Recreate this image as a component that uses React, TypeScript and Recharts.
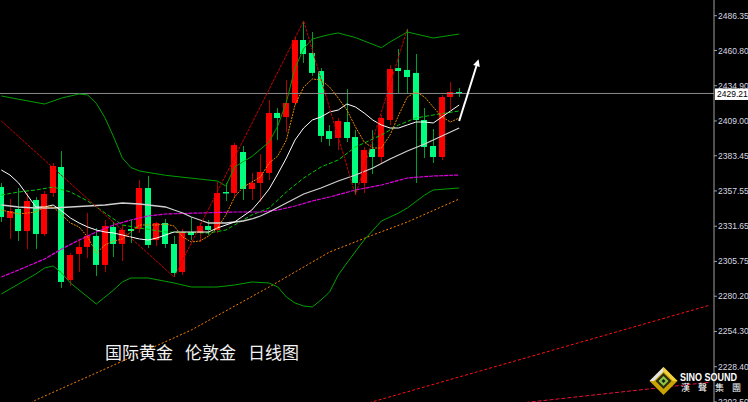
import React from 'react';
import { ComposedChart, Bar, Line, XAxis, YAxis, ReferenceLine } from 'recharts';

// right price scale
const priceTicks = [2486.35, 2460.8, 2434.9, 2409.0, 2383.45, 2357.55, 2331.65, 2305.75, 2280.2, 2254.3, 2228.4, 2202.5];
const priceMin = 2202.47;
const priceMax = 2497.9;
const lastPrice = 2429.21;
const SLOTS = 83; // candle slots across the plot, the rest is empty space on the right

// daily candles, oldest first
const candleOpen = [
  2360.5, 2337.7, 2344.3, 2328.1, 2350.9, 2325.9, 2356.1, 2375.2, 2292.1, 2311.2,
  2316.4, 2324.5, 2303.2, 2331.1, 2318.6, 2329.6, 2329.6, 2359.7, 2321.5, 2334.0,
  2318.6, 2298.0, 2327.4, 2326.7, 2331.8, 2328.9, 2356.8, 2356.1, 2386.2, 2359.0,
  2363.4, 2370.8, 2414.9, 2411.9, 2422.2, 2468.5, 2459.0, 2445.7, 2401.6, 2396.5,
  2408.2, 2397.2, 2363.4, 2388.4, 2382.5, 2409.7, 2447.9, 2446.5, 2444.3, 2409.7,
  2390.6, 2382.5, 2426.6, 2430.3,
];
const candleHigh = [
  2363.4, 2351.7, 2359.7, 2356.1, 2353.1, 2357.5, 2378.1, 2386.9, 2312.0, 2321.5,
  2341.4, 2330.3, 2336.2, 2334.8, 2332.6, 2336.2, 2365.6, 2368.6, 2334.8, 2337.0,
  2324.5, 2329.6, 2338.4, 2334.0, 2336.2, 2364.2, 2363.4, 2392.8, 2390.6, 2370.8,
  2384.7, 2424.4, 2418.5, 2439.1, 2470.7, 2482.5, 2474.4, 2447.9, 2406.0, 2411.2,
  2432.5, 2402.4, 2389.9, 2402.4, 2413.4, 2450.1, 2461.9, 2476.6, 2458.2, 2418.5,
  2403.1, 2428.1, 2437.6, 2433.2,
];
const candleLow = [
  2334.8, 2322.3, 2320.8, 2314.9, 2314.9, 2324.5, 2353.1, 2286.3, 2287.7, 2298.0,
  2308.3, 2295.1, 2298.0, 2309.0, 2306.1, 2319.3, 2326.7, 2315.6, 2317.1, 2315.6,
  2294.3, 2295.8, 2321.5, 2320.1, 2325.2, 2326.7, 2350.2, 2352.4, 2350.9, 2350.9,
  2349.5, 2365.6, 2395.0, 2400.9, 2420.7, 2451.6, 2442.1, 2393.5, 2390.6, 2387.7,
  2393.5, 2354.6, 2356.1, 2370.0, 2377.4, 2406.0, 2429.6, 2429.6, 2363.4, 2381.8,
  2378.1, 2380.3, 2417.1, 2426.6,
];
const candleClose = [
  2338.4, 2342.8, 2328.1, 2350.2, 2325.9, 2355.3, 2375.9, 2290.7, 2310.5, 2316.4,
  2324.5, 2303.2, 2331.8, 2318.6, 2328.9, 2328.1, 2359.7, 2317.9, 2334.0, 2318.6,
  2297.3, 2327.4, 2325.2, 2331.8, 2328.9, 2356.1, 2356.1, 2391.3, 2359.0, 2363.4,
  2371.5, 2414.9, 2411.2, 2422.2, 2468.5, 2458.2, 2444.3, 2398.0, 2395.8, 2409.0,
  2396.5, 2363.4, 2387.7, 2382.5, 2411.2, 2447.2, 2445.7, 2441.3, 2409.7, 2389.9,
  2382.5, 2426.6, 2430.3, 2429.2,
];

// indicator readings, [candle index, price]
const bbUpper: [number, number][] = [
  [0, 2427.35], [5, 2421.47], [7, 2425.88], [9, 2428.82], [10, 2428.08], [11, 2421.98],
  [12, 2411.33], [13, 2397.29], [14, 2381.86], [15, 2374.8], [16, 2372.23], [19, 2369.07],
  [25, 2364.88], [26, 2361.21], [27, 2375.17], [29, 2382.89], [31, 2393.54], [32, 2405.3],
  [33, 2422.94], [34, 2447.93], [35, 2462.11], [36, 2469.24], [38, 2472.55], [39, 2473.65],
  [41, 2470.27], [44, 2462.85], [45, 2467.03], [47, 2474.38], [50, 2469.97], [53, 2472.91],
];
const bbMiddle: [number, number][] = [
  [0, 2354.59], [2, 2356.8], [4, 2358.27], [6, 2360.47], [8, 2356.8], [10, 2350.19],
  [12, 2341.37], [14, 2332.55], [16, 2330.34], [19, 2327.4], [24, 2326.67], [26, 2328.87],
  [27, 2332.55], [29, 2339.9], [31, 2345.04], [33, 2356.8], [35, 2367.09], [37, 2375.17],
  [39, 2380.32], [41, 2389.87], [44, 2398.69], [46, 2406.04], [48, 2411.18], [50, 2413.39],
  [53, 2416.33],
];
const bbLower: [number, number][] = [
  [0, 2281.84], [2, 2289.19], [4, 2296.54], [5, 2300.95], [6, 2302.42], [7, 2297.27],
  [8, 2289.92], [9, 2284.78], [11, 2274.49], [12, 2279.63], [13, 2284.78], [14, 2290.66],
  [15, 2293.6], [17, 2293.6], [20, 2289.92], [22, 2286.98], [25, 2286.98], [27, 2288.45],
  [29, 2290.66], [31, 2289.92], [32, 2286.98], [33, 2279.63], [34, 2275.23], [35, 2273.02],
  [36, 2272.29], [37, 2277.43], [38, 2283.31], [39, 2295.8], [40, 2304.62], [42, 2321.52],
  [44, 2335.49], [46, 2341.37], [47, 2345.04], [49, 2354.59], [50, 2358.27], [53, 2359.74],
];
const ma5: [number, number][] = [
  [0, 2343.57], [2, 2340.63], [4, 2342.1], [5, 2345.78], [6, 2345.78], [7, 2339.9],
  [8, 2334.02], [9, 2331.08], [10, 2323.73], [11, 2311.97], [12, 2317.85], [13, 2320.79],
  [14, 2322.26], [15, 2327.4], [16, 2332.55], [17, 2332.55], [18, 2332.55], [19, 2333.28],
  [20, 2331.81], [21, 2323.73], [22, 2320.05], [23, 2320.79], [24, 2324.46], [25, 2330.34],
  [26, 2339.9], [27, 2353.12], [28, 2360.47], [29, 2364.15], [30, 2367.82], [31, 2378.11],
  [32, 2383.26], [33, 2395.01], [34, 2420.74], [35, 2433.96], [36, 2439.84], [37, 2439.11],
  [38, 2433.96], [39, 2425.88], [40, 2417.06], [41, 2404.57], [42, 2393.54], [43, 2389.13],
  [44, 2389.13], [45, 2398.69], [46, 2413.39], [47, 2426.61], [48, 2430.29], [49, 2426.61],
  [50, 2419.27], [51, 2411.92], [52, 2408.24], [53, 2411.18],
];
const ma10: [number, number][] = [
  [0, 2372.97], [1, 2369.29], [2, 2363.41], [3, 2354.59], [4, 2345.78], [5, 2345.78],
  [6, 2347.25], [7, 2342.84], [8, 2337.69], [9, 2334.02], [10, 2331.08], [11, 2328.87],
  [12, 2327.4], [13, 2326.67], [14, 2325.2], [15, 2323.73], [16, 2322.26], [17, 2321.52],
  [18, 2322.99], [19, 2325.2], [20, 2327.4], [22, 2327.4], [24, 2327.4], [25, 2330.34],
  [26, 2332.55], [27, 2334.75], [29, 2343.57], [30, 2350.92], [31, 2359.0], [32, 2370.03],
  [33, 2381.79], [34, 2395.01], [35, 2403.83], [36, 2409.71], [37, 2411.92], [38, 2415.59],
  [39, 2417.06], [40, 2421.47], [41, 2419.27], [42, 2414.86], [43, 2409.71], [44, 2406.04],
  [45, 2403.83], [46, 2403.83], [47, 2406.04], [48, 2408.24], [49, 2408.24], [50, 2407.51],
  [51, 2411.92], [52, 2416.33], [53, 2420.74],
];
const ma30: [number, number][] = [
  [0, 2347.25], [2, 2345.78], [4, 2345.04], [6, 2345.04], [8, 2345.78], [10, 2346.51],
  [12, 2347.25], [14, 2348.72], [16, 2347.98], [18, 2346.51], [19, 2345.78], [20, 2343.57],
  [21, 2341.37], [22, 2338.43], [23, 2336.22], [24, 2334.02], [26, 2334.02], [28, 2335.49],
  [29, 2336.96], [30, 2339.16], [31, 2342.1], [33, 2348.72], [35, 2355.33], [37, 2359.74],
  [39, 2364.88], [41, 2369.29], [43, 2374.43], [45, 2381.05], [47, 2386.93], [49, 2392.07],
  [51, 2397.95], [53, 2403.83],
];
const ma60: [number, number][] = [
  [0, 2294.33], [2, 2299.48], [5, 2307.56], [7, 2314.91], [9, 2321.52], [11, 2327.4],
  [13, 2332.55], [15, 2336.22], [17, 2339.16], [19, 2340.63], [23, 2341.37], [27, 2342.1],
  [30, 2342.1], [32, 2343.57], [34, 2346.51], [36, 2350.19], [38, 2353.12], [41, 2358.27],
  [44, 2361.94], [47, 2367.09], [50, 2368.56], [53, 2369.29],
];
const ma200: [number, number][] = [
  [3, 2200.27], [4, 2203.94], [12, 2226.72], [22, 2255.38], [31, 2286.98], [38, 2312.69],
  [43, 2325.2], [47, 2334.75], [53, 2351.65],
];
const zigzag: [number, number][] = [
  [0, 2409.0], [20, 2294.3], [35, 2482.5], [41, 2354.6], [47, 2476.6],
];
const trendLineA: [number, number][] = [[42, 2200.85], [82, 2273.6]];
const trendLineB: [number, number][] = [[60, 2201.6], [82, 2217.0]];
const arrowPath: [number, number][] = [[53, 2409.0], [55, 2449.4]];

const rows: any[] = Array.from({ length: SLOTS }, (_, i) => ({
  i,
  o: candleOpen[i] ?? null,
  h: candleHigh[i] ?? null,
  l: candleLow[i] ?? null,
  c: candleClose[i] ?? null,
}));
const put = (key: string, pts: [number, number][]) => {
  pts.forEach(([idx, v]) => {
    rows[idx][key] = v;
  });
};
put('bbU', bbUpper);
put('bbM', bbMiddle);
put('bbL', bbLower);
put('ma5', ma5);
put('ma10', ma10);
put('ma30', ma30);
put('ma60', ma60);
put('ma200', ma200);
put('zz', zigzag);
put('tlA', trendLineA);
put('tlB', trendLineB);
put('arrow', arrowPath);

const Candle = (props: any) => {
  const { x, y, width, height, payload } = props;
  if (!payload || payload.o == null || height == null) return <g />;
  const { o, h, l, c } = payload;
  const top = Math.min(y, y + height);
  const span = Math.abs(height);
  const toY = (v: number) => top + ((h - v) / (h - l)) * span;
  const up = c > o;
  const mid = Math.round(x + width / 2);
  const bTop = toY(Math.max(o, c));
  const bBot = toY(Math.min(o, c));
  return (
    <g>
      <line x1={mid + 0.5} x2={mid + 0.5} y1={top} y2={top + span} stroke={up ? '#b00000' : '#00a030'} strokeWidth={1} />
      <rect x={mid - 3} y={bTop} width={6} height={Math.max(1.5, bBot - bTop)} fill={up ? '#ff0000' : '#00ff7f'} />
    </g>
  );
};

const lastArrowIdx = arrowPath[arrowPath.length - 1][0];
const firstArrowIdx = arrowPath[0][0];

const ArrowHead = (props: any) => {
  const { cx, cy, payload, points } = props;
  if (!payload || payload.i !== lastArrowIdx || cx == null || cy == null) return <g key={props.key} />;
  let ux = 0.27;
  let uy = -0.96;
  const start = Array.isArray(points) ? points.find((p: any) => p && p.payload && p.payload.i === firstArrowIdx) : null;
  if (start && start.x != null && start.y != null) {
    const dx = cx - start.x;
    const dy = cy - start.y;
    const len = Math.hypot(dx, dy) || 1;
    ux = dx / len;
    uy = dy / len;
  }
  const tipX = cx + ux * 7;
  const tipY = cy + uy * 7;
  const px = -uy * 3.5;
  const py = ux * 3.5;
  return (
    <polygon
      key={props.key}
      points={`${tipX},${tipY} ${cx + px},${cy + py} ${cx - px},${cy - py}`}
      fill="#ffffff"
    />
  );
};

const PriceTag = (props: any) => {
  const vb = props.viewBox || {};
  const x = (vb.x ?? 0) + (vb.width ?? 0) + 1;
  const y = vb.y ?? 0;
  return (
    <g>
      <rect x={x} y={y - 5} width={34} height={11.5} fill="#ffffff" />
      <text x={x + 2} y={y + 4} fontSize={8.5} fill="#000000" fontFamily="Liberation Sans, Arial, sans-serif">
        {lastPrice.toFixed(2)}
      </text>
    </g>
  );
};

const lineBase = {
  type: 'linear' as const,
  dot: false,
  activeDot: false,
  connectNulls: true,
  isAnimationActive: false,
};

export default function App() {
  return (
    <div
      style={{
        position: 'fixed',
        left: 0,
        top: 0,
        width: 748,
        height: 402,
        background: '#000000',
        overflow: 'hidden',
        fontFamily: 'Liberation Sans, Arial, sans-serif',
      }}
    >
      <ComposedChart width={748} height={402} data={rows} margin={{ top: 0, right: 0, bottom: 0, left: -3 }}>
        <XAxis dataKey="i" hide />
        <YAxis
          orientation="right"
          domain={[priceMin, priceMax]}
          allowDataOverflow
          ticks={priceTicks}
          interval={0}
          width={34}
          tickSize={3}
          tickMargin={1}
          axisLine={{ stroke: '#a0a0a0' }}
          tickLine={{ stroke: '#a0a0a0' }}
          tick={{ fill: '#d8d8e0', fontSize: 8.5, fontFamily: 'Liberation Sans, Arial, sans-serif' }}
          tickFormatter={(v: number) => v.toFixed(2)}
        />
        <ReferenceLine y={lastPrice} stroke="#8c8c8c" strokeWidth={1} label={PriceTag} />
        <Bar dataKey={(d: any) => (d.h == null ? null : [d.l, d.h])} barSize={6} shape={Candle} isAnimationActive={false} />
        <Line {...lineBase} dataKey="ma200" stroke="#ff8000" strokeWidth={1} strokeDasharray="2 2" />
        <Line {...lineBase} dataKey="bbU" stroke="#00a000" strokeWidth={1} />
        <Line {...lineBase} dataKey="bbL" stroke="#00a000" strokeWidth={1} />
        <Line {...lineBase} dataKey="bbM" stroke="#00c800" strokeWidth={1} strokeDasharray="4 2" />
        <Line {...lineBase} dataKey="ma60" stroke="#e000e0" strokeWidth={1.2} strokeDasharray="4 1" />
        <Line {...lineBase} dataKey="ma30" stroke="#d0d0d0" strokeWidth={1.3} />
        <Line {...lineBase} dataKey="ma10" stroke="#ffffff" strokeWidth={1} />
        <Line {...lineBase} dataKey="ma5" stroke="#e88a00" strokeWidth={1} strokeDasharray="2 1" />
        <Line {...lineBase} dataKey="zz" stroke="#c80000" strokeWidth={1} strokeDasharray="3 1" />
        <Line {...lineBase} dataKey="tlA" stroke="#ff1010" strokeWidth={1} strokeDasharray="3 2" />
        <Line {...lineBase} dataKey="tlB" stroke="#e8103c" strokeWidth={1} strokeDasharray="4 2" />
        <Line {...lineBase} dataKey="arrow" stroke="#ffffff" strokeWidth={2} dot={ArrowHead} />
      </ComposedChart>

      <div
        style={{
          position: 'absolute',
          left: 105,
          top: 342,
          fontSize: 17,
          lineHeight: '20px',
          color: '#f2f2f2',
          fontFamily: '"Noto Sans CJK SC", sans-serif',
          whiteSpace: 'nowrap',
        }}
      >
        <span>国际黄金</span>
        <span style={{ marginLeft: 12 }}>伦敦金</span>
        <span style={{ marginLeft: 12 }}>日线图</span>
      </div>

      <svg width={103} height={40} style={{ position: 'absolute', left: 645, top: 362 }}>
        <polygon points="18.5,5 32.5,19 18.5,33 4.5,19" fill="#c9a400" />
        <polygon points="18.5,5 4.5,19 9,19 18.5,9.5" fill="#e4e4e4" />
        <polygon points="18.5,5 32.5,19 28,19 18.5,9.5" fill="#f2d23c" />
        <polygon points="18.5,11 26.5,19 18.5,27 10.5,19" fill="#2c2c12" />
        <polygon points="18.5,14 23.5,19 18.5,24 13.5,19" fill="#8cc63f" />
        <polygon points="18.5,17 20.5,19 18.5,21 16.5,19" fill="#1a1a1a" />
        <text
          x={35}
          y={18.5}
          fontSize={10}
          fontWeight="bold"
          fill="#ffffff"
          textLength={57}
          lengthAdjust="spacingAndGlyphs"
          fontFamily="Liberation Sans, Arial, sans-serif"
        >
          SINO SOUND
        </text>
        {['漢', '聲', '集', '團'].map((ch, k) => (
          <text key={ch} x={36 + k * 17} y={28.5} fontSize={9} fill="#ffffff" fontFamily='"Noto Sans CJK TC", sans-serif'>
            {ch}
          </text>
        ))}
      </svg>
    </div>
  );
}
